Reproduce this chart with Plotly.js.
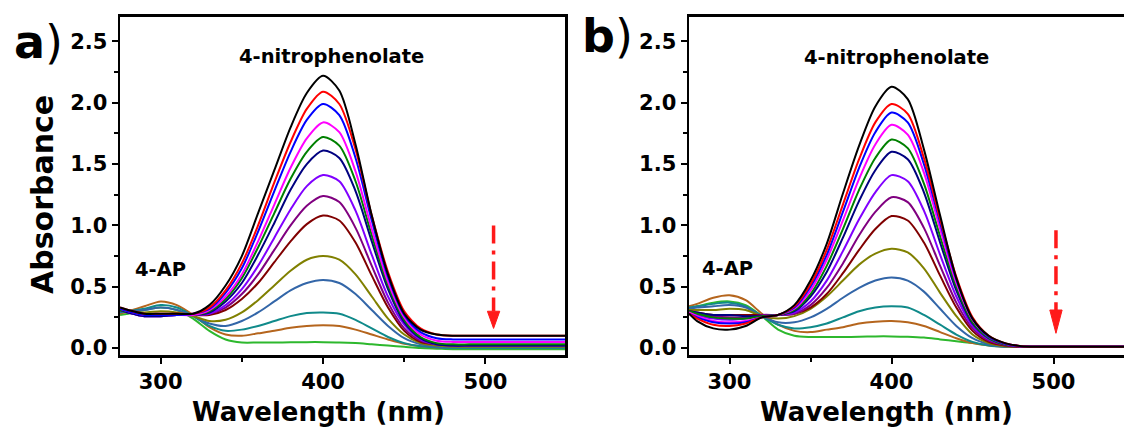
<!DOCTYPE html>
<html><head><meta charset="utf-8">
<script src="https://cdn.plot.ly/plotly-3.0.1.min.js"></script>
<style>html,body{margin:0;padding:0;background:#fff}#chart{width:1124px;height:434px}</style>
</head><body><div id="chart"></div>
<script>
// Wavelength grid (nm)
const wavelengths = [275,280,290,300,310,320,330,340,350,360,370,380,390,400,410,420,430,440,450,460,470,480,490,500,525,550];

const seriesNames = ["t1","t2","t3","t4","t5","t6","t7","t8","t9","t10","t11","t12","t13","t14"];
const seriesColors = ["#000000","#ff0000","#0000ff","#ff00ff","#008000","#000080","#8000ff","#800080","#800000","#808000","#3366a8","#108a8a","#b5651d","#2db82d"];

// Panel a) absorbance spectra
const a1  = [0.33,0.31,0.28,0.28,0.28,0.28,0.35,0.51,0.75,1.10,1.45,1.80,2.08,2.22,2.10,1.66,1.08,0.60,0.28,0.15,0.11,0.10,0.10,0.10,0.10,0.10];
const a2  = [0.33,0.31,0.28,0.28,0.28,0.28,0.33,0.47,0.69,1.00,1.35,1.68,1.95,2.09,1.99,1.62,1.08,0.62,0.30,0.16,0.11,0.10,0.10,0.10,0.10,0.10];
const a3  = [0.32,0.30,0.27,0.27,0.27,0.28,0.32,0.45,0.65,0.95,1.28,1.60,1.86,1.99,1.90,1.55,1.04,0.58,0.27,0.13,0.08,0.07,0.07,0.07,0.07,0.07];
const a4  = [0.32,0.30,0.27,0.27,0.27,0.27,0.31,0.42,0.60,0.87,1.17,1.47,1.71,1.84,1.76,1.44,0.97,0.54,0.25,0.11,0.06,0.05,0.05,0.05,0.05,0.05];
const a5  = [0.31,0.30,0.27,0.27,0.27,0.27,0.30,0.40,0.57,0.82,1.10,1.38,1.60,1.72,1.65,1.36,0.92,0.51,0.23,0.09,0.04,0.03,0.03,0.03,0.03,0.03];
const a6  = [0.31,0.29,0.26,0.26,0.27,0.27,0.29,0.38,0.53,0.76,1.02,1.29,1.50,1.61,1.55,1.28,0.87,0.48,0.21,0.08,0.03,0.02,0.02,0.02,0.02,0.02];
const a7  = [0.31,0.29,0.26,0.26,0.27,0.27,0.28,0.35,0.48,0.67,0.90,1.13,1.32,1.41,1.36,1.12,0.76,0.42,0.19,0.07,0.03,0.02,0.02,0.02,0.02,0.02];
const a8  = [0.31,0.29,0.26,0.26,0.27,0.27,0.28,0.33,0.44,0.60,0.80,1.00,1.16,1.24,1.19,0.98,0.67,0.37,0.16,0.06,0.03,0.02,0.02,0.02,0.02,0.02];
const a9  = [0.31,0.29,0.27,0.27,0.28,0.27,0.27,0.31,0.40,0.53,0.70,0.87,1.01,1.08,1.04,0.86,0.59,0.33,0.14,0.05,0.03,0.02,0.02,0.02,0.02,0.02];
const a10 = [0.31,0.30,0.29,0.30,0.29,0.26,0.22,0.23,0.29,0.39,0.51,0.63,0.72,0.75,0.72,0.60,0.42,0.24,0.11,0.04,0.02,0.01,0.01,0.01,0.01,0.01];
const a11 = [0.30,0.30,0.31,0.33,0.31,0.26,0.20,0.18,0.22,0.29,0.38,0.47,0.53,0.555,0.53,0.44,0.31,0.18,0.08,0.03,0.01,0.01,0.01,0.01,0.01,0.01];
const a12 = [0.29,0.30,0.32,0.35,0.33,0.26,0.18,0.14,0.15,0.18,0.22,0.26,0.285,0.29,0.28,0.23,0.16,0.09,0.04,0.015,0.005,0.0,0.0,0.0,0.0,0.0];
const a13 = [0.28,0.30,0.34,0.38,0.35,0.27,0.17,0.11,0.10,0.12,0.14,0.165,0.18,0.185,0.18,0.15,0.11,0.07,0.035,0.015,0.005,0.0,0.0,0.0,0.0,0.0];
const a14 = [0.27,0.28,0.31,0.33,0.31,0.24,0.14,0.07,0.045,0.045,0.045,0.047,0.048,0.048,0.046,0.04,0.03,0.02,0.01,0.0,-0.005,-0.01,-0.01,-0.01,-0.01,-0.01];

// Panel b) absorbance spectra
const b1  = [0.28,0.22,0.16,0.15,0.18,0.25,0.27,0.35,0.55,0.85,1.26,1.65,1.97,2.13,2.03,1.62,1.08,0.57,0.24,0.10,0.04,0.015,0.01,0.01,0.01,0.01];
const b2  = [0.28,0.24,0.19,0.18,0.20,0.25,0.27,0.34,0.52,0.80,1.17,1.54,1.84,1.99,1.91,1.55,1.05,0.58,0.25,0.10,0.04,0.015,0.01,0.01,0.01,0.01];
const b3  = [0.28,0.25,0.21,0.20,0.21,0.25,0.27,0.33,0.50,0.76,1.11,1.47,1.76,1.92,1.84,1.50,1.02,0.56,0.24,0.09,0.035,0.015,0.01,0.01,0.01,0.01];
const b4  = [0.29,0.26,0.22,0.21,0.22,0.25,0.27,0.32,0.47,0.72,1.04,1.38,1.66,1.82,1.74,1.43,0.97,0.53,0.23,0.09,0.035,0.015,0.01,0.01,0.01,0.01];
const b5  = [0.30,0.28,0.25,0.24,0.24,0.26,0.27,0.31,0.44,0.67,0.97,1.29,1.55,1.70,1.63,1.34,0.91,0.50,0.21,0.08,0.03,0.015,0.01,0.01,0.01,0.01];
const b6  = [0.30,0.29,0.27,0.27,0.26,0.26,0.27,0.30,0.42,0.62,0.90,1.20,1.45,1.60,1.54,1.27,0.86,0.47,0.20,0.08,0.03,0.015,0.01,0.01,0.01,0.01];
const b7  = [0.29,0.27,0.24,0.23,0.24,0.26,0.27,0.29,0.38,0.55,0.79,1.05,1.27,1.41,1.36,1.12,0.76,0.42,0.18,0.07,0.03,0.015,0.01,0.01,0.01,0.01];
const b8  = [0.30,0.28,0.26,0.25,0.25,0.27,0.27,0.28,0.35,0.49,0.69,0.92,1.11,1.23,1.19,0.98,0.67,0.37,0.16,0.06,0.025,0.01,0.01,0.01,0.01,0.01];
const b9  = [0.30,0.29,0.27,0.27,0.27,0.27,0.27,0.28,0.33,0.44,0.61,0.80,0.97,1.076,1.04,0.86,0.59,0.33,0.14,0.05,0.02,0.01,0.01,0.01,0.01,0.01];
const b10 = [0.31,0.31,0.31,0.32,0.31,0.26,0.24,0.26,0.32,0.42,0.55,0.68,0.77,0.81,0.78,0.65,0.45,0.26,0.11,0.04,0.015,0.01,0.01,0.01,0.01,0.01];
const b11 = [0.32,0.33,0.34,0.35,0.33,0.26,0.21,0.21,0.25,0.32,0.41,0.49,0.55,0.576,0.55,0.46,0.32,0.18,0.08,0.03,0.01,0.01,0.01,0.01,0.01,0.01];
const b12 = [0.33,0.34,0.36,0.37,0.34,0.26,0.19,0.16,0.17,0.20,0.25,0.30,0.33,0.34,0.33,0.27,0.19,0.11,0.05,0.02,0.01,0.01,0.01,0.01,0.01,0.01];
const b13 = [0.34,0.36,0.41,0.43,0.39,0.28,0.19,0.14,0.13,0.15,0.17,0.20,0.215,0.22,0.21,0.18,0.13,0.08,0.04,0.02,0.01,0.01,0.01,0.01,0.01,0.01];
const b14 = [0.32,0.34,0.37,0.38,0.35,0.26,0.15,0.10,0.09,0.09,0.09,0.092,0.095,0.095,0.092,0.085,0.07,0.055,0.04,0.025,0.015,0.01,0.01,0.01,0.01,0.01];

const panelA = [a1,a2,a3,a4,a5,a6,a7,a8,a9,a10,a11,a12,a13,a14];
const panelB = [b1,b2,b3,b4,b5,b6,b7,b8,b9,b10,b11,b12,b13,b14];

// Tick values / labels
const xTickVals = [300,400,500];
const xTickText = ["300","400","500"];
const yTickVals = [0,0.5,1.0,1.5,2.0,2.5];
const yTickText = ["0.0","0.5","1.0","1.5","2.0","2.5"];

// Arrow (decreasing direction) positions: [x, yTop, yHeadBase, yTip]
const arrowA = [505, 1.0, 0.30, 0.16];
const arrowB = [501.5, 0.96, 0.31, 0.12];

const traces = [];
function addPanel(data, xa, ya) {
  for (let i = data.length - 1; i >= 0; i--) {
    traces.push({
      x: wavelengths, y: data[i], type: 'scatter', mode: 'lines',
      name: seriesNames[i], xaxis: xa, yaxis: ya, showlegend: false,
      line: {color: seriesColors[i], width: 2, shape: 'spline', smoothing: 0.8},
      hoverinfo: 'skip'
    });
  }
}
addPanel(panelA, 'x', 'y');
addPanel(panelB, 'x2', 'y2');

const F = 'DejaVu Sans, Arial, sans-serif';
const tickFont = {family: F, size: 21, color: '#000', weight: 'bold'};
function xax(domain, range) {
  return {
    domain: domain, range: range, showgrid: false, zeroline: false,
    showline: true, linewidth: 2.5, linecolor: '#000', mirror: true,
    ticks: 'outside', ticklen: 6, tickwidth: 2, tickcolor: '#000',
    tickvals: xTickVals, ticktext: xTickText, tickfont: tickFont,
    minor: {tickvals: [350, 450], ticks: 'outside', ticklen: 4, tickwidth: 2, tickcolor: '#000'}
  };
}
function yax(anchor, mirror) {
  return {
    domain: [0.182, 0.961], range: [-0.057, 2.70], anchor: anchor,
    showgrid: false, zeroline: false,
    showline: true, linewidth: 2.5, linecolor: '#000', mirror: mirror,
    ticks: 'outside', ticklen: 6, tickwidth: 2, tickcolor: '#000',
    tickvals: yTickVals, ticktext: yTickText, tickfont: tickFont,
    minor: {tickvals: [0.25, 0.75, 1.25, 1.75, 2.25], ticks: 'outside', ticklen: 4, tickwidth: 2, tickcolor: '#000'}
  };
}

function arrowShapes(arr, xr, yr) {
  const [x, yTop, yBase, yTip] = arr;
  const hw = 3.8;
  return [
    {type: 'line', xref: xr, yref: yr, x0: x, x1: x, y0: yTop, y1: yBase,
     line: {color: '#ff1a1a', width: 3.5, dash: '18px,7px,4px,7px'}},
    {type: 'path', xref: xr, yref: yr,
     path: `M ${x - hw} ${yBase} L ${x + hw} ${yBase} L ${x} ${yTip} Z`,
     fillcolor: '#ff1a1a', line: {color: '#ff1a1a', width: 1}}
  ];
}

function paperText(text, px, py, size, extra) {
  return Object.assign({text: text, x: px / 1124, y: 1 - py / 434, xref: 'paper', yref: 'paper',
    xanchor: 'center', yanchor: 'middle', showarrow: false,
    font: {family: F, size: size, color: '#000', weight: 'bold'}}, extra || {});
}

const annFont = {family: F, size: 19.5, color: '#000', weight: 'bold'};
const layout = {
  width: 1124, height: 434,
  margin: {l: 0, r: 0, t: 0, b: 0},
  paper_bgcolor: '#fff', plot_bgcolor: '#fff',
  showlegend: false,
  xaxis: xax([0.1068, 0.5027], [275, 549]),
  yaxis: yax('x', true),
  xaxis2: xax([0.613, 1], [275, 543.5]),
  yaxis2: yax('x2', false),
  shapes: [...arrowShapes(arrowA, 'x', 'y'), ...arrowShapes(arrowB, 'x2', 'y2')],
  annotations: [
    {text: '4-nitrophenolate', x: 405, y: 2.38, xref: 'x', yref: 'y', showarrow: false, font: annFont},
    {text: '4-nitrophenolate', x: 403, y: 2.37, xref: 'x2', yref: 'y2', showarrow: false, font: annFont},
    {text: '4-AP', x: 300, y: 0.64, xref: 'x', yref: 'y', showarrow: false, font: annFont},
    {text: '4-AP', x: 299, y: 0.645, xref: 'x2', yref: 'y2', showarrow: false, font: annFont},
    paperText('Wavelength (nm)', 318, 412, 26),
    paperText('Wavelength (nm)', 886, 412, 26),
    paperText('Absorbance', 42, 195, 30, {textangle: -90}),
    paperText("a<span style='font-weight:normal'>)</span>", 38, 42, 46),
    paperText("b<span style='font-weight:normal'>)</span>", 607, 36, 46)
  ]
};

Plotly.newPlot('chart', traces, layout, {staticPlot: true, displayModeBar: false});
</script>
</body></html>
